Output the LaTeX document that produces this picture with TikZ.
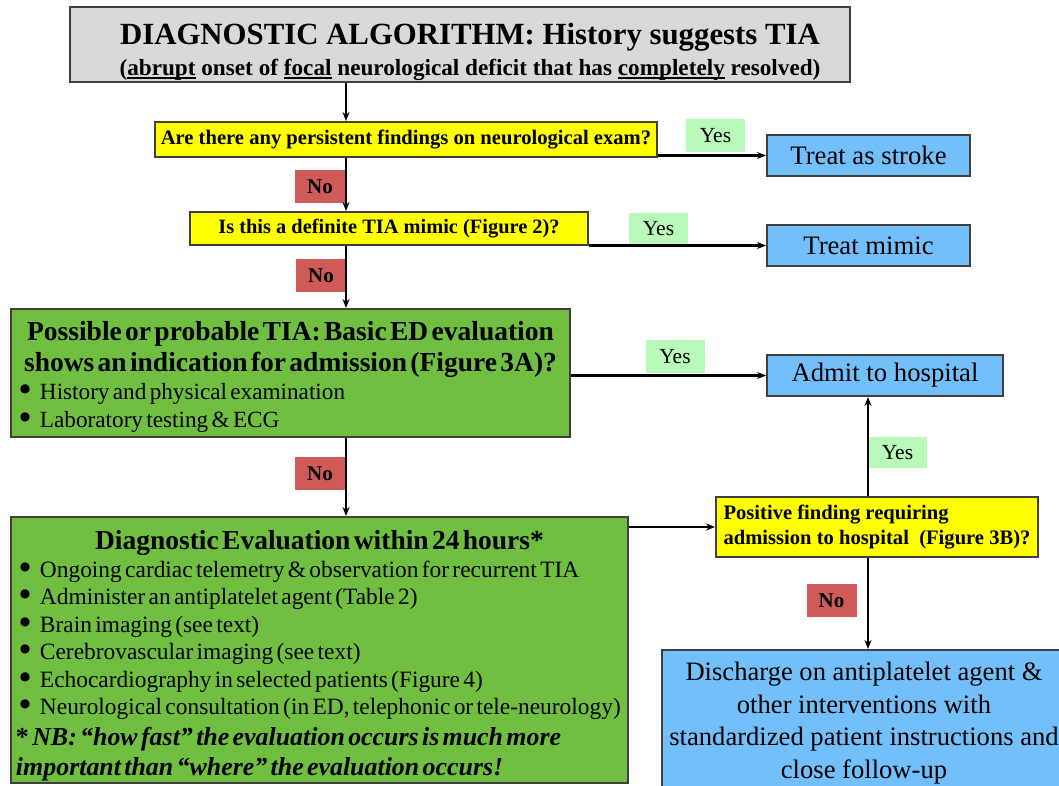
\documentclass[tikz,border=0pt]{standalone}
\usepackage{fontspec}
\setmainfont{Liberation Serif}
\newfontfamily\symfont{DejaVu Sans}
\usepackage{tikz}
\usetikzlibrary{arrows.meta}
\tikzset{>={Stealth[length=9,width=7]}}
\usepackage{xcolor}
\definecolor{boxgray}{HTML}{D9D9D9}
\definecolor{boxyellow}{HTML}{FFFF00}
\definecolor{boxgreen}{HTML}{70BF41}
\definecolor{boxblue}{HTML}{73BFFA}
\definecolor{nored}{HTML}{D05A57}
\definecolor{yesgreen}{HTML}{B9F9B9}
\colorlet{myedge}{black!75}
\setlength{\parindent}{0pt}
\newcommand{\fsz}[2]{\fontsize{#1}{#2}\selectfont}
\newcommand{\bul}{\hspace*{4pt}\makebox[20pt][l]{\raisebox{7pt}{\symfont\fsz{12}{12}●}}}
\newcommand{\ulin}[1]{\setbox0\hbox{#1}\rlap{\rule[-3.5pt]{\wd0}{1.8pt}}\box0\relax}

\begin{document}
\begin{tikzpicture}[x=1pt,y=-1pt,
    arrow/.style={->,line width=1.6pt,black},
    box/.style={draw=myedge,line width=2pt,inner sep=0pt},
    yes/.style={fill=yesgreen,inner sep=0pt,minimum width=59pt,minimum height=33pt,font=\fsz{21.5}{23}},
    no/.style={fill=nored,inner sep=0pt,minimum width=50pt,minimum height=33pt,font=\fsz{21}{23}\bfseries}]
    \useasboundingbox (0,0) rectangle (1059,786);

    % boxes
    \node[box,fill=boxgray,minimum width=780pt,minimum height=75pt] (title) at (460,44.5) {};
    \node[align=center,inner sep=0pt] (titletext) at (470,52)
        {\fsz{30.8}{32}\bfseries DIAGNOSTIC ALGORITHM: History suggests TIA\\[7pt]
         \fsz{23.2}{26}\bfseries(\ulin{abrupt} onset of \ulin{focal} neurological deficit that has \ulin{completely} resolved)};
    \node[box,fill=boxyellow,minimum width=502pt,minimum height=35pt,font=\fsz{20.6}{22}\bfseries] (q1) at (406,139.5)
        {Are there any persistent findings on neurological exam?};
    \node[box,fill=boxyellow,minimum width=398pt,minimum height=33pt,font=\fsz{20.4}{22}\bfseries] (q2) at (389,228.5)
        {Is this a definite TIA mimic (Figure 2)?};
    \node[box,fill=boxgreen,minimum width=559pt,minimum height=128pt,inner xsep=5pt,text width=549pt] (basic) at (290.5,373)
        {{\centering\bfseries\fsz{27.5}{31}\rule{0pt}{28pt}Possible or probable TIA: Basic ED evaluation\\
          shows an indication for admission (Figure 3A)?\par}
         {\fsz{23.2}{28}\bul History and physical examination\\
          \bul Laboratory testing \& ECG\par}};
    \node[box,fill=boxgreen,minimum width=617pt,minimum height=266pt,inner xsep=5pt,text width=607pt] (diag) at (319.5,650)
        {{\centering\bfseries\fsz{27.5}{29}\rule{0pt}{31pt}Diagnostic Evaluation within 24 hours*\par}
         {\fsz{23.4}{27.5}\bul Ongoing cardiac telemetry \& observation for recurrent TIA\\
          \bul Administer an antiplatelet agent (Table 2)\\
          \bul Brain imaging (see text)\\
          \bul Cerebrovascular imaging (see text)\\
          \bul Echocardiography in selected patients (Figure 4)\\
          \bul Neurological consultation (in ED, telephonic or tele-neurology)\par}
         {\bfseries\fsz{25.9}{30.5}*\itshape\ NB: “how fast” the evaluation occurs is much more\\
          important than “where” the evaluation occurs!\par}};
    \node[box,fill=boxyellow,minimum width=322pt,minimum height=60pt,align=left,font=\fsz{20.6}{25}\bfseries] (pos) at (877,527)
        {Positive finding requiring\\ admission to hospital\ \ (Figure 3B)?};
    \node[box,fill=boxblue,minimum width=203pt,minimum height=41pt,font=\fsz{26.7}{28}] (stroke) at (868.5,155.5) {Treat as stroke};
    \node[box,fill=boxblue,minimum width=203pt,minimum height=41pt,font=\fsz{26.7}{28}] (mimic) at (868.5,245.5) {Treat mimic};
    \node[box,fill=boxblue,minimum width=236pt,minimum height=41pt,font=\fsz{26.7}{28}] (admit) at (885,375.5) {Admit to hospital};
    \node[box,fill=boxblue,minimum width=404pt,minimum height=146pt,align=center,font=\fsz{26.6}{32.5}] (discharge) at (864,723)
        {Discharge on antiplatelet agent \&\\ other interventions with\\
         standardized patient instructions and\\ close follow-up};

    % yes / no tags
    \node[yes] (yes1) at (715.5,135.5) {Yes};
    \node[yes,minimum height=31pt] (yes2) at (658.5,228.5) {Yes};
    \node[yes] (yes3) at (675,356.5) {Yes};
    \node[yes,minimum height=31pt] (yes4) at (897.5,452.5) {Yes};
    \node[no] (no1) at (320,186.5) {No};
    \node[no] (no2) at (321,275.5) {No};
    \node[no] (no3) at (320,473.5) {No};
    \node[no] (no4) at (831.5,600.5) {No};

    % connectors
    \coordinate (col) at (346,0);
    \coordinate (col2) at (868,0);
    \draw[arrow] (title.south -| col) -- (q1.north -| col);
    \draw[arrow] (q1.south -| col) -- (q2.north -| col);
    \draw[arrow] (q2.south -| col) -- (basic.north -| col);
    \draw[arrow] (basic.south -| col) -- (diag.north -| col);
    \draw[arrow,line width=2.5pt] (q1.east |- stroke.west) -- (stroke.west);
    \draw[arrow,line width=2.5pt] (q2.east |- mimic.west) -- (mimic.west);
    \draw[arrow,line width=2.5pt] (basic.east |- admit.west) -- (admit.west);
    \draw[arrow,line width=2.5pt] (diag.east |- pos.west) -- (pos.west);
    \draw[arrow] (pos.north -| col2) -- (admit.south -| col2);
    \draw[arrow] (pos.south -| col2) -- (discharge.north -| col2);
\end{tikzpicture}
\end{document}
